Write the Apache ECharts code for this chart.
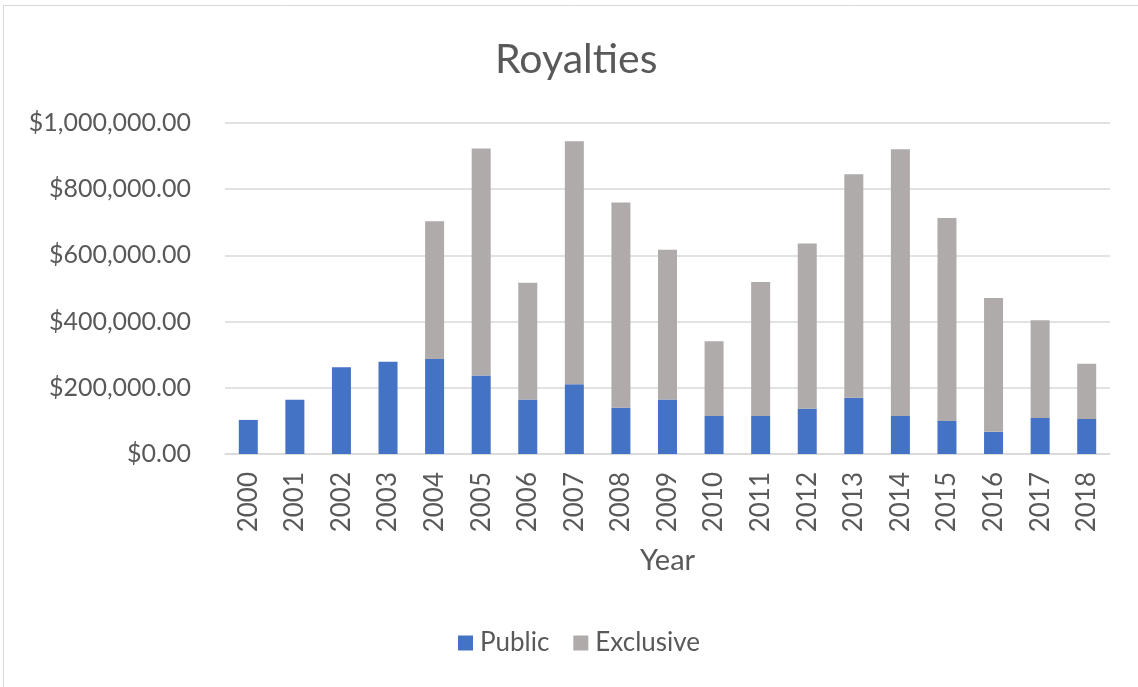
<!DOCTYPE html>
<html>
<head>
<meta charset="utf-8">
<script src="https://cdn.jsdelivr.net/npm/echarts@6/dist/echarts.min.js"></script>
<style>
  html, body { margin: 0; padding: 0; background: #fff; }
  #chart { width: 1138px; height: 687px; }
</style>
</head>
<body>
<div id="chart"></div>
<script>
// Royalty receipts per year, split by licence type
const years = ['2000','2001','2002','2003','2004','2005','2006','2007','2008','2009',
               '2010','2011','2012','2013','2014','2015','2016','2017','2018'];
const publicValues = [103000, 164000, 262000, 279000, 287000, 237000, 165000, 211000, 140000, 165000,
                      115000, 115000, 137000, 170000, 115000, 100000, 67000, 109000, 106000];
const exclusiveValues = [0, 0, 0, 0, 416000, 686000, 352000, 734000, 620000, 452000,
                         226000, 405000, 499000, 675000, 806000, 613000, 404000, 295000, 167000];
const yTicks = { min: 0, max: 1000000, interval: 200000 };

const textColor = '#595959';
const fontFamily = 'Lato, "Open Sans", sans-serif';

function money(v) {
  return '$' + v.toLocaleString('en-US', { minimumFractionDigits: 2, maximumFractionDigits: 2 });
}

const chart = echarts.init(document.getElementById('chart'), null, { renderer: 'canvas' });
chart.setOption({
  backgroundColor: '#fff',
  textStyle: { fontFamily: fontFamily },
  title: {
    text: 'Royalties',
    left: 490,
    top: 34,
    textStyle: { fontFamily: fontFamily, fontSize: 41, fontWeight: 'normal', color: textColor }
  },
  graphic: [{
    type: 'rect',
    shape: { x: 3.5, y: 5.5, width: 1160, height: 700 },
    style: { fill: 'none', stroke: '#d9d9d9', lineWidth: 1 },
    silent: true
  }],
  legend: {
    bottom: 26,
    left: 453,
    itemWidth: 15,
    itemHeight: 15,
    itemGap: 24,
    icon: 'rect',
    textStyle: { fontFamily: fontFamily, fontSize: 26, color: textColor, padding: [0, 0, 0, 2] },
    data: ['Public', 'Exclusive']
  },
  grid: { left: 225, right: 28, top: 123, bottom: 233, containLabel: false },
  xAxis: {
    type: 'category',
    data: years,
    name: 'Year',
    nameLocation: 'middle',
    nameGap: 92,
    nameTextStyle: { fontFamily: fontFamily, fontSize: 29, color: textColor },
    axisLine: { lineStyle: { color: '#d9d9d9', width: 1.5 } },
    axisTick: { show: false },
    axisLabel: {
      rotate: 90,
      fontSize: 26,
      color: textColor,
      fontFamily: fontFamily,
      margin: 18,
      interval: 0
    }
  },
  yAxis: {
    type: 'value',
    min: yTicks.min,
    max: yTicks.max,
    interval: yTicks.interval,
    axisLine: { show: false },
    axisTick: { show: false },
    splitLine: { lineStyle: { color: '#d9d9d9', width: 1.5 } },
    axisLabel: {
      formatter: money,
      fontSize: 25,
      color: textColor,
      fontFamily: fontFamily,
      margin: 34
    }
  },
  series: [
    {
      name: 'Public',
      type: 'bar',
      stack: 'total',
      data: publicValues,
      barWidth: 19,
      itemStyle: { color: '#4472c4' }
    },
    {
      name: 'Exclusive',
      type: 'bar',
      stack: 'total',
      data: exclusiveValues,
      barWidth: 19,
      itemStyle: { color: '#afabab' }
    }
  ]
});
</script>
</body>
</html>
